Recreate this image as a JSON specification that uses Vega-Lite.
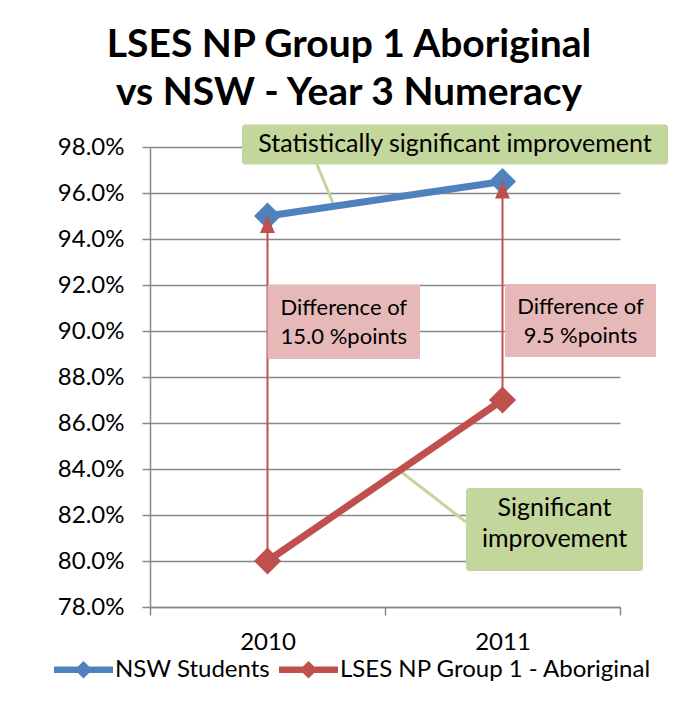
{
  "$schema": "https://vega.github.io/schema/vega-lite/v6.json",
  "width": 470,
  "height": 460,
  "autosize": {"type": "none"},
  "padding": {"left": 150, "top": 147, "right": 56, "bottom": 97},
  "background": "white",
  "config": {
    "font": "Lato",
    "view": {"stroke": null},
    "axis": {"labelColor": "black", "labelFont": "Lato", "labelFontSize": 24, "title": null}
  },
  "title": {
    "text": ["LSES NP Group 1 Aboriginal", "vs NSW - Year 3 Numeracy"],
    "font": "Lato",
    "fontSize": 39,
    "fontWeight": "bold",
    "color": "black",
    "lineHeight": 48,
    "anchor": "middle",
    "frame": "group",
    "dx": -36,
    "offset": 12
  },
  "datasets": {
    "scores": [
      {"year": 2010, "series": "NSW Students", "value": 0.95},
      {"year": 2011, "series": "NSW Students", "value": 0.965},
      {"year": 2010, "series": "LSES NP Group 1 - Aboriginal", "value": 0.80},
      {"year": 2011, "series": "LSES NP Group 1 - Aboriginal", "value": 0.87}
    ],
    "notes": [
      {"label": "Statistically significant improvement", "x": 2009.8915, "x2": 2011.7043, "y": 0.98978, "y2": 0.97239, "tx": 2010.798, "ty": 0.98109, "lx": 2010.2106, "ly": 0.97239, "lx2": 2010.2787, "ly2": 0.95565},
      {"label": "Significant\nimprovement", "x": 2010.8447, "x2": 2011.5979, "y": 0.83174, "y2": 0.79565, "tx": 2011.2213, "ty": 0.82304, "lx": 2010.5723, "ly": 0.83848, "lx2": 2010.8447, "ly2": 0.81696}
    ],
    "diffs": [
      {"label": "Difference of\n15.0 %points", "x": 2010.0, "x2": 2010.6489, "y": 0.92, "y2": 0.88783, "tx": 2010.3245, "ty": 0.91},
      {"label": "Difference of\n9.5 %points", "x": 2011.0106, "x2": 2011.6532, "y": 0.92043, "y2": 0.8887, "tx": 2011.3319, "ty": 0.91043}
    ]
  },
  "data": {"name": "scores"},
  "encoding": {
    "x": {
      "field": "year",
      "type": "quantitative",
      "scale": {"domain": [2009.5, 2011.5], "nice": false, "zero": false},
      "axis": {
        "values": [2009.5, 2010.5, 2011.5],
        "labelExpr": "datum.value == 2009.5 ? '2010' : datum.value == 2010.5 ? '2011' : ''",
        "labelOffset": 117.5,
        "labelPadding": 15,
        "labelFlush": false,
        "labelOverlap": false,
        "labelBound": false,
        "tickSize": 8,
        "tickColor": "#888888",
        "tickWidth": 1.5,
        "domainColor": "#888888",
        "domainWidth": 1.5,
        "grid": false
      }
    },
    "y": {
      "field": "value",
      "type": "quantitative",
      "scale": {"domain": [0.78, 0.98], "nice": false, "zero": false},
      "axis": {
        "values": [0.78, 0.80, 0.82, 0.84, 0.86, 0.88, 0.90, 0.92, 0.94, 0.96, 0.98],
        "format": ".1%",
        "labelPadding": 18,
        "tickSize": 8,
        "tickColor": "#888888",
        "tickWidth": 1.5,
        "domainColor": "#888888",
        "domainWidth": 1.5,
        "grid": true,
        "gridColor": "#888888",
        "gridWidth": 1.5
      }
    }
  },
  "layer": [
    {
      "data": {"values": [{}]},
      "mark": {"type": "rect", "fill": null, "stroke": "#8a8a8a", "strokeWidth": 2},
      "encoding": {
        "x": {"datum": 2008.904, "type": "quantitative"},
        "x2": {"datum": 2012.5},
        "y": {"datum": 1.03957, "type": "quantitative"},
        "y2": {"datum": 0.70}
      }
    },
    {
      "data": {"name": "notes"},
      "mark": {"type": "rule", "color": "#C3D69B", "strokeWidth": 3},
      "encoding": {
        "x": {"field": "lx", "type": "quantitative"},
        "x2": {"field": "lx2"},
        "y": {"field": "ly", "type": "quantitative"},
        "y2": {"field": "ly2"}
      }
    },
    {
      "mark": {"type": "line", "strokeWidth": 7},
      "encoding": {
        "color": {
          "field": "series",
          "type": "nominal",
          "scale": {"domain": ["NSW Students", "LSES NP Group 1 - Aboriginal"], "range": ["#4F81BD", "#C0504D"]},
          "legend": {
            "orient": "none",
            "legendX": -96,
            "legendY": 493,
            "direction": "horizontal",
            "title": null,
            "symbolType": "M-1,-0.11L-0.19,-0.11L0,-0.3L0.19,-0.11L1,-0.11L1,0.11L0.19,0.11L0,0.3L-0.19,0.11L-1,0.11Z",
            "symbolSize": 3481,
            "symbolStrokeWidth": 0,
            "labelFont": "Lato",
            "labelFontSize": 24,
            "labelColor": "black",
            "labelOffset": 2,
            "columnPadding": 8,
            "labelLimit": 0,
            "encode": {"symbols": {"update": {"fill": {"scale": "color", "field": "value"}, "stroke": {"value": "transparent"}, "opacity": {"value": 1}}}}
          }
        }
      }
    },
    {
      "mark": {"type": "point", "shape": "diamond", "filled": true, "size": 740, "opacity": 1},
      "encoding": {
        "color": {"field": "series", "type": "nominal"}
      }
    },
    {
      "transform": [{"pivot": "series", "value": "value", "groupby": ["year"]}],
      "mark": {"type": "rule", "color": "#C0504D", "strokeWidth": 2},
      "encoding": {
        "y": {"field": "LSES NP Group 1 - Aboriginal", "type": "quantitative"},
        "y2": {"field": "NSW Students"}
      }
    },
    {
      "transform": [{"filter": "datum.series == 'NSW Students'"}],
      "mark": {"type": "point", "shape": "M0,-1L-0.88,1L0.88,1Z", "size": 289, "filled": true, "color": "#C0504D", "opacity": 1, "strokeWidth": 0, "yOffset": 8.5}
    },
    {
      "data": {"name": "notes"},
      "mark": {"type": "rect", "color": "#C3D69B", "cornerRadius": 3},
      "encoding": {
        "x": {"field": "x", "type": "quantitative"},
        "x2": {"field": "x2"},
        "y": {"field": "y", "type": "quantitative"},
        "y2": {"field": "y2"}
      }
    },
    {
      "data": {"name": "diffs"},
      "mark": {"type": "rect", "color": "#E6B9B8"},
      "encoding": {
        "x": {"field": "x", "type": "quantitative"},
        "x2": {"field": "x2"},
        "y": {"field": "y", "type": "quantitative"},
        "y2": {"field": "y2"}
      }
    },
    {
      "data": {"name": "notes"},
      "mark": {"type": "text", "font": "Lato", "fontSize": 25, "lineHeight": 31, "lineBreak": "\n", "align": "center", "baseline": "middle", "color": "black"},
      "encoding": {
        "x": {"field": "tx", "type": "quantitative"},
        "y": {"field": "ty", "type": "quantitative"},
        "text": {"field": "label", "type": "nominal"}
      }
    },
    {
      "data": {"name": "diffs"},
      "mark": {"type": "text", "font": "Lato", "fontSize": 22, "lineHeight": 29, "lineBreak": "\n", "align": "center", "baseline": "middle", "color": "black"},
      "encoding": {
        "x": {"field": "tx", "type": "quantitative"},
        "y": {"field": "ty", "type": "quantitative"},
        "text": {"field": "label", "type": "nominal"}
      }
    }
  ]
}
